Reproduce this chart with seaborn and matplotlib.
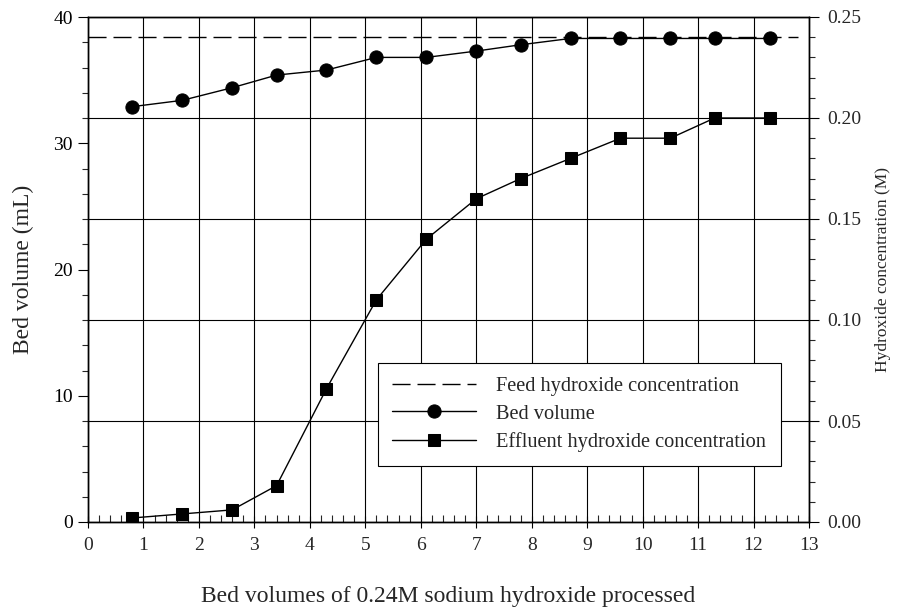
import numpy as np
import matplotlib
matplotlib.use("Agg")
import matplotlib.pyplot as plt
import seaborn as sns
from matplotlib.ticker import MultipleLocator, FormatStrFormatter

# data
bv_processed = [0.8, 1.7, 2.6, 3.4, 4.3, 5.2, 6.1, 7.0, 7.8, 8.7, 9.6, 10.5, 11.3, 12.3]
bed_volume_ml = [32.9, 33.4, 34.4, 35.4, 35.8, 36.8, 36.8, 37.3, 37.8, 38.3, 38.3, 38.3, 38.3, 38.3]
effluent_oh = [0.002, 0.004, 0.006, 0.018, 0.066, 0.110, 0.140, 0.160, 0.170, 0.180, 0.190, 0.190, 0.200, 0.200]
feed_x = [0.0, 12.8]
feed_oh = [0.24, 0.24]

sns.set_theme(style="white")
plt.rcParams['font.family'] = ['Liberation Serif', 'DejaVu Serif']

fig = plt.figure(figsize=(9, 6.08), dpi=100)
ax = fig.add_axes([88 / 900, 1 - 522 / 608, 721 / 900, 505 / 608])
ax2 = ax.twinx()

# bed volume on the left axis
sns.lineplot(x=bv_processed, y=bed_volume_ml, ax=ax, color='black', lw=1.0,
             marker='o', markersize=9.5, markeredgecolor='black', label='Bed volume',
             legend=False)

# feed and effluent hydroxide on the right axis
sns.lineplot(x=feed_x, y=feed_oh, ax=ax2, color='black', lw=1.0, legend=False,
             label='Feed hydroxide concentration')
ax2.lines[-1].set_dashes((13, 5))
sns.lineplot(x=bv_processed, y=effluent_oh, ax=ax2, color='black', lw=1.0,
             marker='s', markersize=8.5, markeredgecolor='black',
             label='Effluent hydroxide concentration', legend=False)

ax.set_xlim(0, 13)
ax.set_ylim(0, 40)
ax2.set_ylim(0, 0.25)

ax.xaxis.set_major_locator(MultipleLocator(1))
ax.xaxis.set_minor_locator(MultipleLocator(0.2))
ax.yaxis.set_major_locator(MultipleLocator(10))
ax.yaxis.set_minor_locator(MultipleLocator(2))
ax2.yaxis.set_major_locator(MultipleLocator(0.05))
ax2.yaxis.set_minor_locator(MultipleLocator(0.01))
ax2.yaxis.set_major_formatter(FormatStrFormatter('%.2f'))

# grid: vertical from x axis, horizontal from right axis
ax.grid(True, axis='x', which='major', color='black', lw=0.8)
ax2.grid(True, axis='y', which='major', color='black', lw=0.8)
ax.set_axisbelow(True)

ax.tick_params(axis='y', which='major', direction='out', length=7, width=0.8,
               labelsize=14, left=True, pad=4, color='black', labelcolor='black')
ax.tick_params(axis='y', which='minor', direction='out', length=4, width=0.8, left=True)
ax.tick_params(axis='x', which='major', direction='inout', length=8, width=0.8,
               labelsize=14, bottom=True, pad=7, color='black')
ax.tick_params(axis='x', which='minor', direction='in', length=5, width=0.8, bottom=True)
ax2.tick_params(axis='y', which='major', direction='out', length=7, width=0.8,
                labelsize=14, right=True, pad=6, color='black')
ax2.tick_params(axis='y', which='minor', direction='out', length=4, width=0.8, right=True)

for a in (ax, ax2):
    for s in a.spines.values():
        s.set_color('black')
        s.set_linewidth(1.0)

ax.set_xlabel('Bed volumes of 0.24M sodium hydroxide processed', fontsize=17, labelpad=23)
ax.set_ylabel('Bed volume (mL)', fontsize=17, labelpad=14)
ax2.set_ylabel('Hydroxide concentration (M)', fontsize=12.5, labelpad=10)

h1, l1 = ax.get_legend_handles_labels()
h2, l2 = ax2.get_legend_handles_labels()
handles = [h2[0], h1[0], h2[1]]
labels = [l2[0], l1[0], l2[1]]
leg = ax2.legend(handles, labels, loc='lower left', bbox_to_anchor=(0.402, 0.111),
                 borderaxespad=0, fontsize=14.7, frameon=True, fancybox=False,
                 framealpha=1, edgecolor='black', handlelength=4.1, numpoints=1,
                 borderpad=0.7, labelspacing=0.4, handletextpad=1.0)
leg.get_frame().set_linewidth(0.8)

fig.savefig('out.png', dpi=100)
